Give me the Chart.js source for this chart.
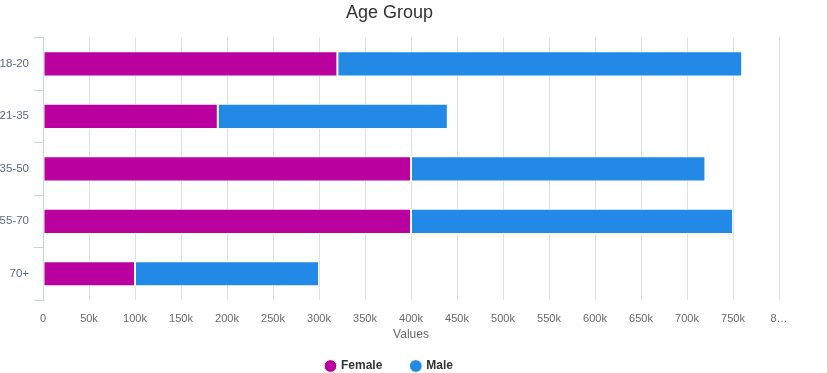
<!DOCTYPE html>
<html>
<head>
<meta charset="utf-8">
<script src="https://cdn.jsdelivr.net/npm/chart.js@4"></script>
<style>
  html, body { margin: 0; padding: 0; background: #fff; overflow: hidden; }
  #wrap { width: 827px; height: 373px; }
</style>
</head>
<body>
<div id="wrap"><canvas id="graph1" width="827" height="373"></canvas></div>
<script>
// donnees
let ageGroups = ["18-20", "21-35", "35-50", "55-70", "70+"];
let femaleValues = [320000, 190000, 400000, 400000, 100000];
let maleValues = [440000, 250000, 320000, 350000, 200000];
let xMax = 800000;
let xStep = 50000;

Chart.defaults.font.family = "'Liberation Sans', Arial, sans-serif";

let ctx = document.getElementById("graph1").getContext("2d");
let chart = new Chart(ctx, {
    type: 'bar',
    data: {
        labels: ageGroups,
        datasets: [
            { label: 'Female', data: femaleValues, backgroundColor: '#bb00a0', borderColor: '#ffffff', borderWidth: 1, borderSkipped: false },
            { label: 'Male', data: maleValues, backgroundColor: '#2289e7', borderColor: '#ffffff', borderWidth: 1, borderSkipped: false }
        ]
    },
    options: {
        indexAxis: 'y',
        responsive: false,
        animation: false,
        barPercentage: 0.48,
        categoryPercentage: 1,
        layout: { padding: { right: 48, left: 0, top: 0, bottom: -9 } },
        plugins: {
            title: {
                display: true,
                text: 'Age Group',
                color: '#333333',
                font: { size: 18, weight: 'normal' },
                padding: { top: 2, bottom: 14 }
            },
            legend: {
                position: 'bottom',
                labels: {
                    usePointStyle: true,
                    pointStyle: 'circle',
                    boxWidth: 9,
                    boxHeight: 9,
                    padding: 29,
                    color: '#333333',
                    font: { size: 12, weight: 'bold' }
                }
            },
            tooltip: { enabled: false }
        },
        scales: {
            x: {
                stacked: true,
                min: 0,
                max: xMax,
                border: { display: false },
                grid: { color: '#e0e0e0', drawTicks: false },
                afterFit: function(scale) { scale.height = 31; },
                ticks: {
                    stepSize: xStep,
                    padding: 12,
                    color: '#6a6a6a',
                    font: { size: 11 },
                    maxRotation: 0,
                    autoSkip: false,
                    callback: function(v) {
                        if (v === 0) return '0';
                        if (v === xMax) return '8…';
                        return (v / 1000) + 'k';
                    }
                },
                title: { display: true, text: 'Values', color: '#6a6a6a', font: { size: 12 }, padding: { top: 0, bottom: -11 } }
            },
            y: {
                stacked: true,
                border: { display: true, color: '#c8d2e3', width: 1 },
                grid: { offset: true, drawOnChartArea: false, color: '#c8d2e3', tickLength: 9 },
                afterFit: function(scale) { scale.width = 43; },
                ticks: { color: '#5a6b88', font: { size: 11.5 }, padding: 5 }
            }
        }
    }
});
</script>
</body>
</html>
